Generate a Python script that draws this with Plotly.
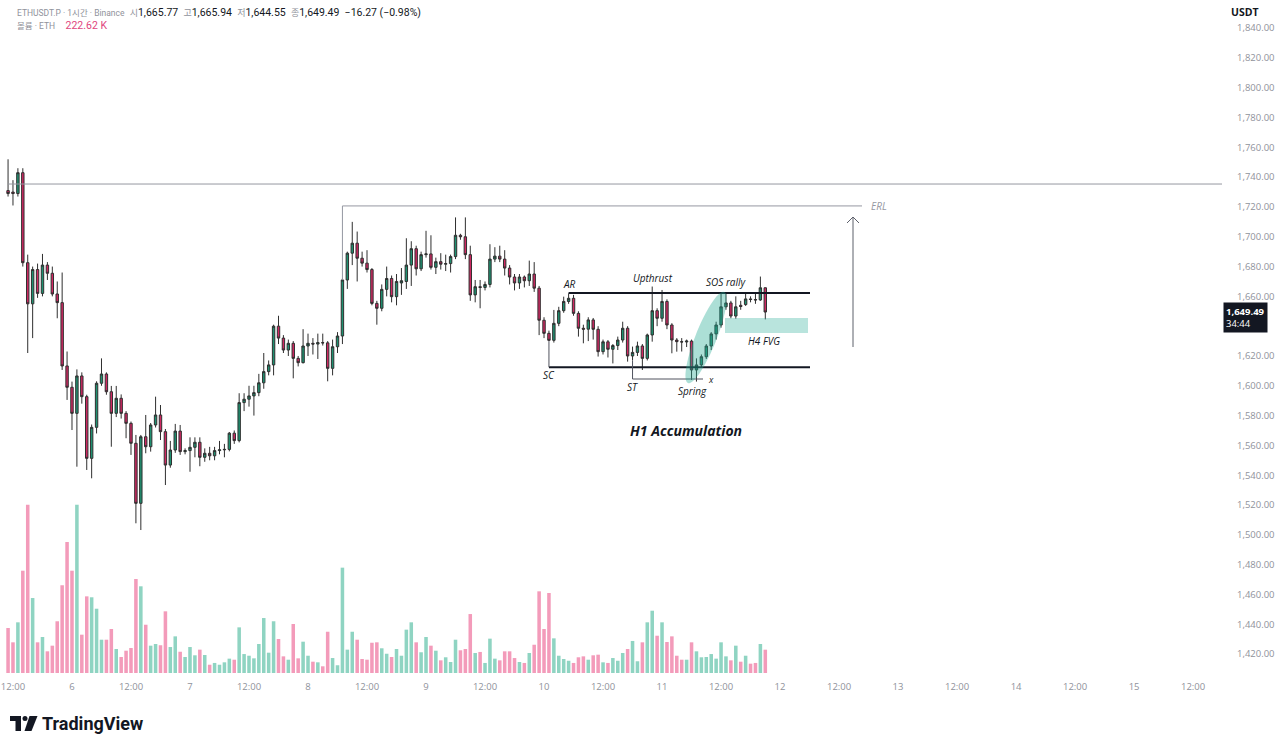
import numpy as np
import plotly.graph_objects as go

# ---------------- data (hour offsets relative to day 6 00:00) ----------------
hours = list(range(-13, 142))

open_ = [
    1731, 1730, 1729, 1743, 1682.6, 1655, 1678, 1662, 1681, 1675.5,
    1661.6, 1655.8, 1613.3, 1599, 1581.5, 1606.6, 1592.7, 1551.3, 1572.1, 1601.7,
    1607.9, 1596, 1581.5, 1591.6, 1581.5, 1574.8, 1561.4, 1521.1, 1565.8, 1559.1,
    1573.7, 1580.4, 1569.2, 1546.8, 1556.9, 1569.6, 1555.8, 1556.5, 1558.7, 1562.1,
    1552, 1554.7, 1553, 1556.5, 1557, 1557.3, 1568.2, 1563.2, 1588.7, 1591,
    1593.2, 1595.4, 1602, 1609.5, 1614, 1640, 1632, 1624, 1628.5, 1618.4,
    1615.5, 1626.7, 1628.5, 1628, 1629, 1628.8, 1611.7, 1626.2, 1633.4, 1671,
    1689, 1695.7, 1685.6, 1682.3, 1678, 1655.3, 1652, 1664.7, 1672, 1659.8,
    1669, 1670, 1681, 1692, 1678.5, 1688, 1688.5, 1679.5, 1683.3, 1681.6,
    1682, 1686.7, 1701, 1700, 1688, 1661, 1666.5, 1666, 1668, 1685,
    1687, 1685, 1679, 1673, 1669, 1673, 1670.5, 1675, 1665.5, 1644,
    1635.2, 1630.5, 1641.9, 1650.4, 1656.6, 1658.7, 1648.6, 1638.6, 1638, 1644.2,
    1637.9, 1622.9, 1629.5, 1624.5, 1627, 1630.7, 1638.6, 1620, 1622.4, 1626.7,
    1618.4, 1634.1, 1650.4, 1645.3, 1656.6, 1640.8, 1630.7, 1629.6, 1629.4, 1630,
    1610.6, 1614, 1619.5, 1626.7, 1634.8, 1640.8, 1653, 1655.6, 1646.8, 1654,
    1654.5, 1658.3, 1657.9, 1657.6, 1665.77,
]
high = [
    1752, 1738, 1746, 1746, 1688, 1680, 1682, 1688.5, 1683, 1680,
    1670, 1676, 1623, 1602.8, 1611, 1609, 1594, 1574, 1603, 1618.4,
    1609, 1599.9, 1599.9, 1594.2, 1583, 1576, 1567, 1567, 1580.4, 1575,
    1592.7, 1587.1, 1571, 1563, 1574.4, 1573.7, 1558, 1565.4, 1565.4, 1565.4,
    1558, 1559, 1559, 1563, 1561, 1569, 1570, 1595, 1595, 1600,
    1600, 1608, 1622, 1617, 1641, 1647, 1634, 1631, 1630, 1620,
    1638, 1635, 1632, 1635, 1635, 1630, 1631, 1636, 1672, 1690,
    1710, 1703.5, 1690, 1691, 1679, 1657, 1668, 1680, 1674, 1675,
    1679, 1699, 1697, 1694, 1690, 1704, 1701, 1686, 1689, 1688,
    1688, 1713, 1702, 1713, 1694, 1671, 1671, 1670, 1695, 1693,
    1694, 1691, 1681, 1675, 1675, 1674, 1684, 1683, 1667, 1646,
    1637, 1650.9, 1653, 1659.8, 1662, 1661, 1650, 1641, 1646, 1645.5,
    1640, 1631, 1630.7, 1628, 1633, 1643, 1640, 1626.3, 1629.6, 1628,
    1635, 1666.6, 1652, 1664.3, 1658, 1642, 1632, 1632, 1631, 1631,
    1618.4, 1621, 1628, 1636, 1643, 1662, 1662, 1657, 1660, 1657,
    1662, 1660, 1662, 1673.3, 1665.94,
]
low = [
    1727, 1721, 1727, 1680, 1622, 1632, 1659, 1660, 1671, 1660,
    1645.3, 1610.6, 1590.5, 1570.3, 1545.7, 1588, 1543.5, 1537.9, 1568, 1600,
    1594, 1559.1, 1579, 1578, 1564.8, 1553.6, 1507.7, 1503.2, 1554.7, 1555.8,
    1572, 1563.6, 1533.4, 1545, 1555, 1553.6, 1554, 1542.3, 1552, 1546,
    1549, 1550, 1550, 1554, 1552, 1556, 1561, 1562, 1583, 1586,
    1580, 1593, 1598, 1607, 1607, 1628, 1622, 1620, 1605, 1613,
    1615, 1620, 1621, 1618, 1627, 1603, 1607, 1622, 1628, 1665,
    1681, 1670, 1680, 1676, 1654, 1641, 1650, 1660, 1656, 1654,
    1661, 1665, 1667, 1674, 1677, 1686, 1678, 1675, 1678, 1677,
    1676, 1685, 1698, 1685, 1657, 1656, 1652, 1664, 1666, 1683,
    1683, 1674, 1668, 1664, 1665, 1666, 1667, 1663, 1634, 1632,
    1630, 1629, 1640, 1649, 1655, 1647, 1633, 1628.5, 1630, 1631,
    1619.6, 1621, 1619, 1615, 1624, 1629, 1616.2, 1617, 1620, 1610.6,
    1617, 1629.6, 1640, 1643, 1638, 1621.8, 1622.9, 1623, 1626, 1603.9,
    1602.8, 1612, 1618, 1624, 1631, 1639, 1651, 1645.3, 1645, 1651,
    1653.6, 1656, 1655, 1657, 1644.55,
]
close = [
    1729, 1729, 1743, 1682.6, 1655, 1678, 1662, 1681, 1675.5, 1661.6,
    1655.8, 1613.3, 1599, 1581.5, 1606.6, 1592.7, 1551.3, 1572.1, 1601.7, 1607.9,
    1596, 1581.5, 1591.6, 1581.5, 1574.8, 1561.4, 1521.1, 1565.8, 1559.1, 1573.7,
    1580.4, 1569.2, 1546.8, 1556.9, 1569.6, 1555.8, 1556.5, 1558.7, 1562.1, 1552,
    1554.7, 1553, 1556.5, 1557, 1557.3, 1568.2, 1563.2, 1588.7, 1591, 1593.2,
    1595.4, 1602, 1609.5, 1614, 1640, 1632, 1624, 1628.5, 1618.4, 1615.5,
    1626.7, 1628.5, 1628, 1629, 1628.8, 1611.7, 1626.2, 1633.4, 1671, 1689,
    1695.7, 1685.6, 1682.3, 1678, 1655.3, 1652, 1664.7, 1672, 1659.8, 1670,
    1670.5, 1681, 1692, 1678.5, 1688, 1688.5, 1679.5, 1683.3, 1681.6, 1682,
    1686.7, 1701, 1700, 1688, 1661, 1666.5, 1666, 1668, 1685, 1687,
    1685, 1679, 1673, 1669, 1673, 1670.5, 1675, 1665.5, 1644, 1635.2,
    1630.5, 1641.9, 1650.4, 1656.6, 1658.7, 1648.6, 1638.6, 1638, 1644.2, 1637.9,
    1622.9, 1629.5, 1624.5, 1627, 1630.7, 1638.6, 1620, 1622.4, 1626.7, 1618.4,
    1634.1, 1650.4, 1645.3, 1656.6, 1640.8, 1630.7, 1629.6, 1629.4, 1630, 1610.6,
    1614, 1619.5, 1626.7, 1634.8, 1640.8, 1653, 1655.6, 1646.8, 1653, 1653.2,
    1658.3, 1657.9, 1657.6, 1665.77, 1649.49,
]
volume_k = [
    430, 293, 484, 977, 1607, 716, 293, 344, 207, 261,
    494, 838, 1251, 977, 1607, 366, 732, 723, 614, 318,
    318, 420, 229, 153, 213, 239, 898, 828, 461, 261,
    277, 265, 589, 248, 350, 203, 153, 248, 169, 223,
    172, 79, 96, 79, 102, 137, 127, 436, 181, 165,
    140, 277, 525, 194, 494, 325, 159, 127, 468, 140,
    299, 165, 108, 102, 64, 394, 143, 74, 1006, 223,
    394, 318, 134, 127, 289, 293, 236, 184, 153, 229,
    165, 414, 484, 293, 198, 344, 261, 213, 121, 150,
    105, 318, 217, 229, 563, 191, 201, 96, 328, 137,
    121, 207, 207, 143, 105, 96, 191, 270, 780, 420,
    764, 331, 165, 134, 117, 96, 150, 159, 127, 169,
    175, 102, 96, 143, 117, 191, 229, 306, 112, 293,
    484, 595, 356, 484, 296, 350, 165, 127, 127, 293,
    207, 150, 153, 181, 137, 293, 159, 121, 261, 108,
    165, 89, 96, 277, 222.62,
]
change, change_pct = -16.27, -0.98

tick_hours = list(range(-12, 229, 12))
tick_labels = ["12:00", "6", "12:00", "7", "12:00", "8", "12:00", "9", "12:00", "10",
               "12:00", "11", "12:00", "12", "12:00", "13", "12:00", "14", "12:00", "15", "12:00"]
# 1,640 is hidden behind the live price tag in the reference
price_ticks = [v for v in range(1420, 1841, 20) if v != 1640]
price_labels = [f"{v:,.2f}" for v in price_ticks]

# key levels of the drawing
range_high = 1662.3
range_low = 1612.5
erl_level = 1720.7
prev_high_line = 1735.4
fvg_top, fvg_bottom = 1645.5, 1635.4
last_price = close[-1]

# ---------------- geometry ----------------
W, H = 1280, 749
PLOT_W, PLOT_H = 1222, 675
X_RANGE = [-14.64, 233.88]
Y_RANGE = [1405.9, 1858.9]
VOL_PER_PX = 9.55
Y2_RANGE = [-2 * VOL_PER_PX, 673 * VOL_PER_PX]


def hx(px):
    return X_RANGE[0] + px / PLOT_W * (X_RANGE[1] - X_RANGE[0])


def py2p(py):
    return Y_RANGE[1] - py / PLOT_H * (Y_RANGE[1] - Y_RANGE[0])


def ppx(px):
    return px / PLOT_W


def ppy(py):
    return 1 - py / PLOT_H


UP, DOWN = "#1f9070", "#cf2862"
UP_VOL, DOWN_VOL = "#8fd4c2", "#f39bba"
EDGE = "#2f2f2f"
FONT = "Open Sans, Noto Sans CJK KR, sans-serif"
HFONT = "Roboto, Noto Sans CJK KR, sans-serif"

vol_colors = [UP_VOL if c >= o else DOWN_VOL for o, c in zip(open_, close)]

fig = go.Figure()
fig.add_trace(go.Bar(x=hours, y=volume_k, marker=dict(color=vol_colors, line=dict(width=0)),
                     width=0.72, yaxis="y2", hoverinfo="skip", showlegend=False))
fig.add_trace(go.Candlestick(
    x=hours, open=open_, high=high, low=low, close=close,
    increasing=dict(fillcolor=UP, line=dict(color=EDGE, width=1)),
    decreasing=dict(fillcolor=DOWN, line=dict(color=EDGE, width=1)),
    whiskerwidth=0, showlegend=False, hoverinfo="skip"))

shapes = []
shapes.append(dict(type="line", xref="x", yref="y", x0=hours[0], x1=X_RANGE[1],
                   y0=prev_high_line, y1=prev_high_line, line=dict(color="#9598a1", width=1)))
shapes.append(dict(type="path", xref="x", yref="y",
                   path=f"M {hours[68]},{close[68]} L {hours[68]},{erl_level} L {hx(862):.3f},{erl_level}",
                   line=dict(color="#9598a1", width=1)))
ax_h = hx(853)
shapes.append(dict(type="line", xref="x", yref="y", x0=ax_h, x1=ax_h, y0=py2p(347), y1=py2p(217),
                   line=dict(color="#5d606b", width=1)))
shapes.append(dict(type="path", xref="x", yref="y",
                   path=f"M {hx(847):.3f},{py2p(223):.3f} L {ax_h:.3f},{py2p(217):.3f} L {hx(859):.3f},{py2p(223):.3f}",
                   line=dict(color="#5d606b", width=1)))
shapes.append(dict(type="line", xref="x", yref="y", x0=hours[114], x1=hx(810),
                   y0=range_high, y1=range_high, line=dict(color="#131722", width=2)))
shapes.append(dict(type="line", xref="x", yref="y", x0=hours[110], x1=hx(810),
                   y0=range_low, y1=range_low, line=dict(color="#131722", width=2)))
shapes.append(dict(type="line", xref="x", yref="y", x0=hours[110], x1=hours[110],
                   y0=low[110], y1=range_low, line=dict(color="#50535e", width=1)))
st_level = py2p(379)
shapes.append(dict(type="path", xref="x", yref="y",
                   path=f"M {hours[127]},{low[127]} L {hours[127]},{st_level:.3f} L {hx(703):.3f},{st_level:.3f}",
                   line=dict(color="#50535e", width=1)))
shapes.append(dict(type="rect", xref="x", yref="y", x0=hx(725), x1=hx(808), y0=fvg_bottom, y1=fvg_top,
                   fillcolor="rgba(38,170,148,0.32)", line=dict(width=0), layer="above"))
c = np.array([706.0, 337.5])
d = np.array([35.0, -88.0])
d /= np.linalg.norm(d)
n = np.array([-d[1], d[0]])
t = np.linspace(0, 2 * np.pi, 72)
pts = c[None, :] + 49 * np.cos(t)[:, None] * d + 10.5 * np.sin(t)[:, None] * n
epath = "M " + " L ".join(f"{hx(x):.3f},{py2p(y):.3f}" for x, y in pts) + " Z"
shapes.append(dict(type="path", xref="x", yref="y", path=epath,
                   fillcolor="rgba(38,170,148,0.38)", line=dict(width=0), layer="above"))


def prect(x0, y0, x1, y1):
    return dict(type="rect", xref="paper", yref="paper", x0=ppx(x0), x1=ppx(x1), y0=ppy(y1), y1=ppy(y0),
                fillcolor="#131722", line=dict(width=0))


shapes.append(prect(10, 716, 21, 721))
shapes.append(prect(15.5, 716, 21, 731))
shapes.append(dict(type="circle", xref="paper", yref="paper", x0=ppx(22.5), x1=ppx(27.5), y0=ppy(721),
                   y1=ppy(716), fillcolor="#131722", line=dict(width=0)))
shapes.append(dict(type="path", xref="paper", yref="paper",
                   path=f"M {ppx(29.5)},{ppy(716)} L {ppx(37.5)},{ppy(716)} L {ppx(31.5)},{ppy(731)} L {ppx(24.5)},{ppy(731)} Z",
                   fillcolor="#131722", line=dict(width=0)))

ann = []


def label(px, py, text, size=10, color="#131722", xanchor="center"):
    ann.append(dict(x=hx(px), y=py2p(py), xref="x", yref="y", text=text, showarrow=False,
                    font=dict(size=size, color=color, family=FONT), xanchor=xanchor, yanchor="middle"))


label(569, 284, "<i>AR</i>")
label(653, 278, "<i>Upthrust</i>")
label(726, 282, "<i>SOS rally</i>")
label(764, 341, "<i>H4 FVG</i>")
label(549, 375, "<i>SC</i>")
label(632, 387, "<i>ST</i>")
label(692, 391, "<i>Spring</i>")
label(711, 379, "<i>x</i>", size=9)
label(686, 430, "<b><i>H1 Accumulation</i></b>", size=14)
label(869, 206, "<i>ERL</i>", size=10, color="#9598a1", xanchor="left")


def ptext(px, py, text, size=11, color="#131722", xanchor="left", family=FONT):
    ann.append(dict(x=ppx(px), y=ppy(py), xref="paper", yref="paper", text=text, showarrow=False,
                    font=dict(size=size, color=color, family=family), xanchor=xanchor, yanchor="middle"))


G = "#8f929b"
SP = "&nbsp;&nbsp;"
head = (f"<span style='color:{G};font-size:8.5px'>ETHUSDT.P · 1시간 · Binance</span>{SP}"
        f"<span style='color:{G};font-size:9px'>시</span>{open_[-1]:,.2f}{SP}"
        f"<span style='color:{G};font-size:9px'>고</span>{high[-1]:,.2f}{SP}"
        f"<span style='color:{G};font-size:9px'>저</span>{low[-1]:,.2f}{SP}"
        f"<span style='color:{G};font-size:9px'>종</span>{close[-1]:,.2f}{SP}"
        f"−{abs(change):.2f} (−{abs(change_pct):.2f}%)")
ptext(15, 12, head, size=10.5, family=HFONT)
ptext(15, 26, f"<span style='color:{G};font-size:8.5px'>볼륨 · ETH</span>{SP}{SP}"
              f"<span style='color:#e0457e'>{volume_k[-1]:.2f} K</span>", size=10.5, family=HFONT)
ptext(1245, 12, "<b>USDT</b>", size=10.5, xanchor="center")
ptext(40, 723, "<b>TradingView</b>", size=18, family="Roboto, sans-serif")

ann.append(dict(x=ppx(1223), y=last_price, xref="paper", yref="y", yshift=-5,
                text=f"<b>{last_price:,.2f}</b><br>34:44", showarrow=False, align="left",
                font=dict(size=9.5, color="white", family=FONT), bgcolor="#131722",
                borderpad=2, xanchor="left", yanchor="middle"))

fig.update_layout(
    width=W, height=H,
    margin=dict(l=0, r=W - PLOT_W, t=0, b=H - PLOT_H, autoexpand=False),
    paper_bgcolor="white", plot_bgcolor="white",
    showlegend=False, hovermode=False,
    font=dict(family=FONT),
    shapes=shapes, annotations=ann,
    xaxis=dict(range=X_RANGE, tickmode="array", tickvals=tick_hours, ticktext=tick_labels,
               showgrid=False, zeroline=False, showline=False, ticks="", automargin=False,
               ticklabelstandoff=4,
               tickfont=dict(size=9.5, color="#8f929b"), rangeslider=dict(visible=False)),
    yaxis=dict(range=Y_RANGE, side="right", tickmode="array", tickvals=price_ticks, ticktext=price_labels,
               showgrid=False, zeroline=False, showline=False, ticks="", ticklabelstandoff=14,
               automargin=False, tickfont=dict(size=9.5, color="#8f929b")),
    yaxis2=dict(range=Y2_RANGE, overlaying="y", visible=False, showgrid=False),
)

fig.write_html("out.html", config={"displayModeBar": False, "staticPlot": True},
               post_script="document.body.style.margin='0';document.body.style.overflow='hidden';")
